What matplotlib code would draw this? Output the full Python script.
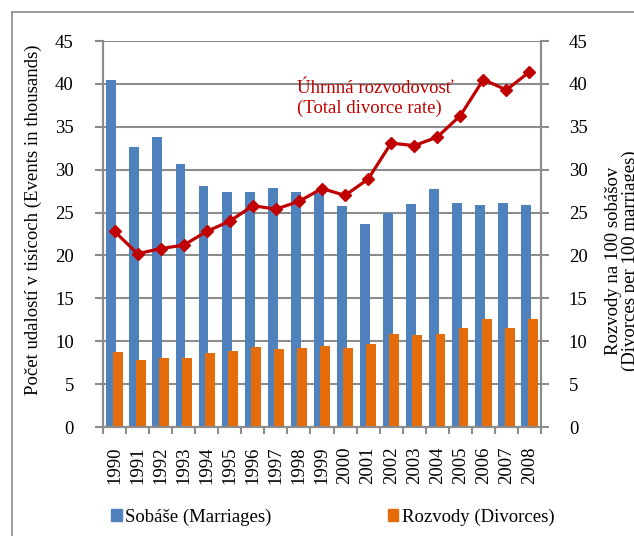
import numpy as np
import matplotlib.pyplot as plt
from matplotlib.patches import Rectangle
from matplotlib.lines import Line2D

plt.rcParams['font.family'] = ['Liberation Serif', 'DejaVu Serif']
plt.rcParams['font.size'] = 13.5

years = [str(y) for y in range(1990, 2009)]
marriages = [40.4, 32.7, 33.8, 30.7, 28.1, 27.4, 27.4, 27.9, 27.4, 27.3,
             25.8, 23.7, 25.0, 26.0, 27.8, 26.1, 25.9, 26.1, 25.9]
divorces = [8.7, 7.8, 8.0, 8.1, 8.6, 8.9, 9.3, 9.1, 9.2, 9.5,
            9.2, 9.7, 10.9, 10.7, 10.8, 11.5, 12.6, 11.5, 12.6]
divorce_rate = [22.8, 20.2, 20.8, 21.2, 22.8, 24.0, 25.8, 25.4, 26.3, 27.8,
                27.0, 28.9, 33.1, 32.8, 33.8, 36.3, 40.5, 39.3, 41.4]

blue = '#4F81BD'
orange = '#E46C0A'
red = '#C00000'
grey = '#8C8C8C'

fig = plt.figure(figsize=(6.34, 5.36), dpi=100)
ax = fig.add_axes([103 / 634, 1 - 427 / 536, 438 / 634, 386 / 536])
x = np.arange(len(years))
w = 0.43
off = 0.14

ax.bar(x - off, marriages, width=w, color=blue, zorder=2, label='Sobáše (Marriages)')
ax.bar(x + off, divorces, width=w, color=orange, zorder=3, label='Rozvody (Divorces)')

ax.set_xlim(-0.5, len(years) - 0.5)
ax.set_ylim(0, 45)
ax.set_yticks(range(0, 46, 5))
ax.yaxis.grid(True, color=grey, linewidth=1.5, zorder=1)
ax.set_axisbelow(True)
ax.set_xticks(x)
ax.set_xticklabels(years, rotation=90)
ax.set_xticks(np.arange(-0.5, len(years), 1), minor=True)
ax.tick_params(axis='x', which='major', length=0, pad=14)
ax.tick_params(axis='x', which='minor', length=5, width=1.5, color=grey)
ax.tick_params(axis='y', length=6, width=1.5, color=grey, pad=15)
for s in ['top']:
    ax.spines[s].set_visible(False)
for s in ['left', 'right', 'bottom']:
    ax.spines[s].set_color(grey)
    ax.spines[s].set_linewidth(1.5)

ax2 = ax.twinx()
ax2.plot(x, divorce_rate, color=red, linewidth=2.3, marker='D', markersize=6, zorder=5)
ax2.set_ylim(0, 45)
ax2.set_yticks(range(0, 46, 5))
ax2.tick_params(axis='y', length=6, width=1.5, color=grey, pad=14)
ax2.spines['top'].set_visible(False)
for s in ['left', 'right', 'bottom']:
    ax2.spines[s].set_color(grey)
    ax2.spines[s].set_linewidth(1.5)

fig.text(297 / 634, 1 - 80 / 536, 'Úhrnná rozvodovosť\n(Total divorce rate)',
         color=red, ha='left', va='top', linespacing=1.2)

fig.text(33 / 634, 1 - 220 / 536, 'Počet udalostí v tisícoch (Events in thousands)',
         rotation=90, ha='center', va='center')
fig.text(622 / 634, 1 - 261 / 536, 'Rozvody na 100 sobášov\n(Divorces per 100 marriages)',
         rotation=90, ha='center', va='center', multialignment='center', linespacing=1.05)

handles = [Rectangle((0, 0), 1, 1, color=blue), Rectangle((0, 0), 1, 1, color=orange)]
fig.legend(handles, ['Sobáše (Marriages)', 'Rozvody (Divorces)'], loc='center',
           bbox_to_anchor=(333 / 634, 1 - 517 / 536), ncol=2, frameon=False,
           handlelength=0.55, handleheight=0.55, handletextpad=0.2, columnspacing=6.2)

# frame of the surrounding document box
fig.add_artist(Line2D([12 / 634, 12 / 634], [0, 1 - 12 / 536], transform=fig.transFigure,
                      color=grey, linewidth=1.2))
fig.add_artist(Line2D([12 / 634, 1], [1 - 12 / 536, 1 - 12 / 536], transform=fig.transFigure,
                      color=grey, linewidth=1.2))

fig.savefig('out.png', dpi=100)
